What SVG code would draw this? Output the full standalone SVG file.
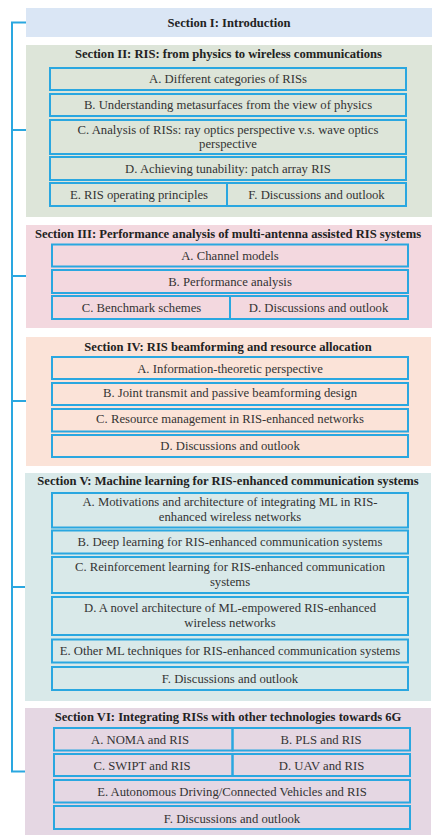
<svg xmlns="http://www.w3.org/2000/svg" width="443" height="837" viewBox="0 0 443 837">
<style>
.t{font-family:"Liberation Serif","Times New Roman",serif;font-size:12.6px;font-weight:bold;fill:#222;text-anchor:middle}
.s{font-family:"Liberation Serif","Times New Roman",serif;font-size:12.7px;fill:#333;text-anchor:middle}
.b{fill:none;stroke:#2aa7e0;stroke-width:2}
.c{fill:none;stroke:#2aa7e0;stroke-width:2}
</style>
<rect width="443" height="837" fill="#ffffff"/>
<g id="connectors">
<path class="c" d="M26,22.5 H12 V771.5 H26 M12,130 H26 M12,276 H26 M12,401 H26 M12,587 H26"/>
</g>
<g id="sec1">
<rect x="26" y="8" width="406" height="29" fill="#dae6f5"/>
<text class="t" x="229" y="27">Section I: Introduction</text>
</g>
<g id="sec2">
<rect x="26" y="45" width="406" height="172" fill="#dde5d9"/>
<text class="t" x="228.5" y="57.5">Section II: RIS: from physics to wireless communications</text>
<g id="sec2A"><rect class="b" x="50" y="68" width="356" height="22"/><text class="s" x="228" y="83">A. Different categories of RISs</text></g>
<g id="sec2B"><rect class="b" x="50" y="94" width="356" height="22"/><text class="s" x="228" y="109">B. Understanding metasurfaces from the view of physics</text></g>
<g id="sec2C"><rect class="b" x="50" y="120" width="356" height="34"/><text class="s" x="228" y="133.5">C. Analysis of RISs: ray optics perspective v.s. wave optics</text><text class="s" x="228" y="147.5">perspective</text></g>
<g id="sec2D"><rect class="b" x="50" y="157" width="356" height="23"/><text class="s" x="228" y="172.5">D. Achieving tunability: patch array RIS</text></g>
<g id="sec2E"><rect class="b" x="50" y="183" width="177" height="23"/><text class="s" x="139" y="198.5">E. RIS operating principles</text></g>
<g id="sec2F"><rect class="b" x="227" y="183" width="179" height="23"/><text class="s" x="316.5" y="198.5">F. Discussions and outlook</text></g>
</g>
<g id="sec3">
<rect x="26" y="225" width="406" height="103" fill="#f3d8df"/>
<text class="t" x="228" y="237.5">Section III: Performance analysis of multi-antenna assisted RIS systems</text>
<g id="sec3A"><rect class="b" x="52" y="244.5" width="356" height="22"/><text class="s" x="230" y="259.5">A. Channel models</text></g>
<g id="sec3B"><rect class="b" x="52" y="270" width="356" height="23"/><text class="s" x="230" y="285.5">B. Performance analysis</text></g>
<g id="sec3C"><rect class="b" x="52" y="296" width="178" height="23"/><text class="s" x="141.5" y="311.5">C. Benchmark schemes</text></g>
<g id="sec3D"><rect class="b" x="230" y="296" width="178" height="23"/><text class="s" x="318.5" y="311.5">D. Discussions and outlook</text></g>
</g>
<g id="sec4">
<rect x="26" y="337" width="405" height="129" fill="#fbe3d8"/>
<text class="t" x="228" y="350.5">Section IV: RIS beamforming and resource allocation</text>
<g id="sec4A"><rect class="b" x="52" y="357" width="356" height="22"/><text class="s" x="230" y="372.5">A. Information-theoretic perspective</text></g>
<g id="sec4B"><rect class="b" x="52" y="383" width="356" height="22"/><text class="s" x="230" y="397">B. Joint transmit and passive beamforming design</text></g>
<g id="sec4C"><rect class="b" x="52" y="409" width="356" height="22.5"/><text class="s" x="230" y="423">C. Resource management in RIS-enhanced networks</text></g>
<g id="sec4D"><rect class="b" x="52" y="435" width="356" height="22"/><text class="s" x="230" y="450">D. Discussions and outlook</text></g>
</g>
<g id="sec5">
<rect x="25" y="473" width="406" height="228" fill="#d9e9e9"/>
<text class="t" x="228" y="485">Section V: Machine learning for RIS-enhanced communication systems</text>
<g id="sec5A"><rect class="b" x="52" y="493" width="356" height="34.5"/><text class="s" x="230" y="506">A. Motivations and architecture of integrating ML in RIS-</text><text class="s" x="230" y="521">enhanced wireless networks</text></g>
<g id="sec5B"><rect class="b" x="52" y="530.5" width="356" height="23"/><text class="s" x="230" y="545.5">B. Deep learning for RIS-enhanced communication systems</text></g>
<g id="sec5C"><rect class="b" x="52" y="557" width="356" height="36"/><text class="s" x="230" y="571">C. Reinforcement learning for RIS-enhanced communication</text><text class="s" x="230" y="585.5">systems</text></g>
<g id="sec5D"><rect class="b" x="52" y="597" width="356" height="38"/><text class="s" x="230" y="611.5">D. A novel architecture of ML-empowered RIS-enhanced</text><text class="s" x="230" y="626.5">wireless networks</text></g>
<g id="sec5E"><rect class="b" x="52" y="639.5" width="356" height="23"/><text class="s" x="230" y="654.5">E. Other ML techniques for RIS-enhanced communication systems</text></g>
<g id="sec5F"><rect class="b" x="52" y="667" width="356" height="23"/><text class="s" x="230" y="682.5">F. Discussions and outlook</text></g>
</g>
<g id="sec6">
<rect x="25" y="708" width="406" height="127" fill="#e5d7e3"/>
<text class="t" x="228" y="721">Section VI: Integrating RISs with other technologies towards 6G</text>
<g id="sec6A"><rect class="b" x="54" y="728" width="178.5" height="22.5"/><text class="s" x="140" y="743.5">A. NOMA and RIS</text></g>
<g id="sec6B"><rect class="b" x="232.5" y="728" width="177.5" height="22.5"/><text class="s" x="321" y="743.5">B. PLS and RIS</text></g>
<g id="sec6C"><rect class="b" x="54" y="754" width="178.5" height="22"/><text class="s" x="142" y="769.5">C. SWIPT and RIS</text></g>
<g id="sec6D"><rect class="b" x="232.5" y="754" width="177.5" height="22"/><text class="s" x="321.5" y="769.5">D. UAV and RIS</text></g>
<g id="sec6E"><rect class="b" x="54" y="780" width="356" height="22.5"/><text class="s" x="232" y="796">E. Autonomous Driving/Connected Vehicles and RIS</text></g>
<g id="sec6F"><rect class="b" x="54" y="806" width="356" height="23"/><text class="s" x="232" y="822.5">F. Discussions and outlook</text></g>
</g>
</svg>
